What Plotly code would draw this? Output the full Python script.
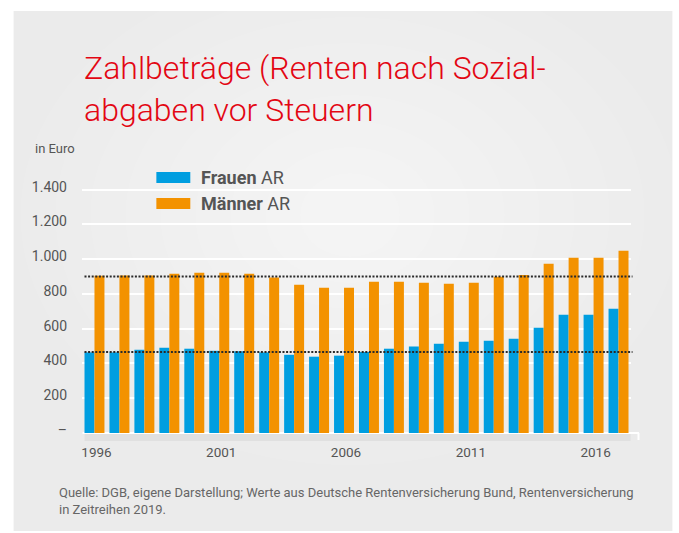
import plotly.graph_objects as go

years = [str(y) for y in range(1996, 2018)]
frauen = [464, 464, 479, 491, 485, 473, 470, 464, 450, 439, 445,
          466, 485, 497, 514, 525, 531, 543, 606, 681, 681, 715]
maenner = [905, 906, 906, 917, 922, 922, 917, 895, 853, 836, 836,
           871, 871, 865, 859, 865, 899, 909, 974, 1009, 1009, 1049]
ref_levels = [901, 466]
tick_years = ["1996", "2001", "2006", "2011", "2016"]
y_ticks = [0, 200, 400, 600, 800, 1000, 1200, 1400]
y_labels = ["–", "200", "400", "600", "800", "1.000", "1.200", "1.400"]

W, H = 679, 533
L, R = 81.5, 631.5
T, B = 181, 433
PW, PH = R - L, B - T

def px(X):
    return (X - L) / PW

def py(Y):
    return (B - Y) / PH

FONT = "Roboto, Liberation Sans, sans-serif"
BLUE = "#009ee0"
ORANGE = "#f39200"
RED = "#e30613"
GREY = "#555555"

fig = go.Figure()
fig.add_trace(go.Bar(x=years, y=frauen, name="Frauen AR", marker_color=BLUE,
                     marker_line_width=0))
fig.add_trace(go.Bar(x=years, y=maenner, name="Männer AR", marker_color=ORANGE,
                     marker_line_width=0))

shapes = []
# panel background
shapes.append(dict(type="rect", xref="paper", yref="paper", layer="below",
                   x0=px(13), x1=px(673), y0=py(531), y1=py(11),
                   fillcolor="#ebebeb", line_width=0))
# soft radial highlight
cx, cy = 350, 215
for k in range(9):
    rx = 330 - k * 35
    ry = 250 - k * 26
    shapes.append(dict(type="circle", xref="paper", yref="paper", layer="below",
                       x0=px(cx - rx), x1=px(cx + rx), y0=py(cy + ry), y1=py(cy - ry),
                       fillcolor="white", opacity=0.09, line_width=0))
# shadow below bars
shapes.append(dict(type="rect", xref="paper", yref="paper", layer="below",
                   x0=px(84), x1=px(631), y0=py(441), y1=py(433),
                   fillcolor="#d9d9d9", opacity=0.6, line_width=0))
# white baseline with end tick
shapes.append(dict(type="line", xref="paper", yref="paper", layer="below",
                   x0=px(82), x1=px(639.5), y0=py(433), y1=py(433),
                   line=dict(color="white", width=2)))
shapes.append(dict(type="line", xref="paper", yref="paper", layer="below",
                   x0=px(639), x1=px(639), y0=py(433), y1=py(440),
                   line=dict(color="white", width=2)))
# dotted reference lines
for lvl in ref_levels:
    shapes.append(dict(type="line", xref="paper", yref="y", layer="above",
                       x0=px(84), x1=px(633), y0=lvl, y1=lvl,
                       line=dict(color="#2a2a2a", width=2, dash="2px,1.6px")))
# legend boxes
shapes.append(dict(type="rect", xref="paper", yref="paper",
                   x0=px(156), x1=px(190), y0=py(183), y1=py(172),
                   fillcolor=BLUE, line_width=0))
shapes.append(dict(type="rect", xref="paper", yref="paper",
                   x0=px(156), x1=px(190), y0=py(209), y1=py(198),
                   fillcolor=ORANGE, line_width=0))

annotations = [
    dict(text="Zahlbeträge (Renten nach Sozial-<br>abgaben vor Steuern",
         xref="paper", yref="paper", x=px(81), y=py(47), xanchor="left",
         yanchor="top", align="left", showarrow=False,
         font=dict(family=FONT, size=32, color=RED, weight=300)),
    dict(text="in Euro", xref="paper", yref="paper", x=px(32), y=py(148),
         xanchor="left", yanchor="middle", showarrow=False,
         font=dict(family=FONT, size=13, color=GREY)),
    dict(text="<b>Frauen</b> AR", xref="paper", yref="paper", x=px(199), y=py(177.5),
         xanchor="left", yanchor="middle", showarrow=False,
         font=dict(family=FONT, size=18, color=GREY)),
    dict(text="<b>Männer</b> AR", xref="paper", yref="paper", x=px(199), y=py(203.5),
         xanchor="left", yanchor="middle", showarrow=False,
         font=dict(family=FONT, size=18, color=GREY)),
    dict(text="Quelle: DGB, eigene Darstellung; Werte aus Deutsche Rentenversicherung Bund, Rentenversicherung<br>in Zeitreihen 2019.",
         xref="paper", yref="paper", x=px(56), y=py(483), xanchor="left",
         yanchor="top", align="left", showarrow=False,
         font=dict(family=FONT, size=13, color="#666666")),
]

fig.update_layout(
    width=W, height=H,
    margin=dict(l=L, r=W - R, t=T, b=H - B, pad=0),
    paper_bgcolor="white",
    plot_bgcolor="rgba(0,0,0,0)",
    barmode="group", bargap=0.2, bargroupgap=0,
    showlegend=False,
    shapes=shapes,
    annotations=annotations,
    font=dict(family=FONT, color=GREY),
    xaxis=dict(type="category", tickmode="array", tickvals=tick_years,
               ticktext=tick_years, showgrid=False, showline=False,
               ticks="", ticklabelstandoff=9, ticklabelshift=2,
               tickfont=dict(family=FONT, size=13.5, color=GREY)),
    yaxis=dict(range=[0, 1450], tickmode="array", tickvals=y_ticks,
               ticktext=y_labels, showgrid=True, gridcolor="white",
               gridwidth=1.5, zeroline=False, showline=False, ticks="",
               ticklabelstandoff=14, ticklabelshift=-3,
               tickfont=dict(family=FONT, size=14, color=GREY)),
)

fig.write_html("out.html", config={"displayModeBar": False},
               post_script="document.body.style.margin='0';document.body.style.overflow='hidden';")
